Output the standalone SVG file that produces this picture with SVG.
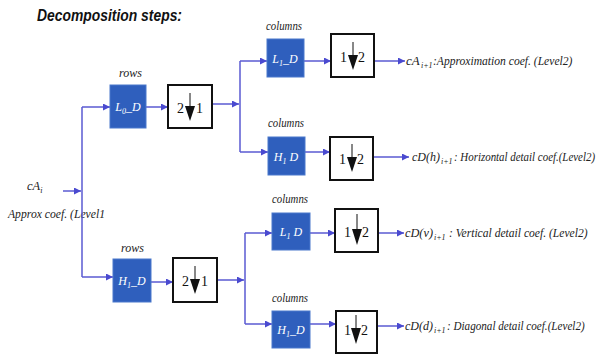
<svg xmlns="http://www.w3.org/2000/svg" width="599" height="357" viewBox="0 0 599 357">
  <style>
    .lbl { font-family: "Liberation Serif", "DejaVu Serif", serif; font-style: italic; font-size: 12.5px; fill: #222; }
    .out { font-family: "Liberation Serif", "DejaVu Serif", serif; font-style: italic; font-size: 13px; fill: #222; }
    .filt rect { fill: #2f5fbd; stroke: #4a78cc; stroke-width: 1; }
    .filt text { font-family: "Liberation Serif", "DejaVu Serif", serif; font-style: italic; font-size: 12px; fill: #ffffff; text-anchor: middle; }
    .ds rect { fill: #ffffff; stroke: #111; stroke-width: 2; }
    .ds text { font-family: "Liberation Serif", "DejaVu Serif", serif; font-size: 14px; fill: #111; }
    .ds line { stroke: #111; stroke-width: 1; }
    .ds polygon { fill: #111; }
    .wire { stroke: #5a5ad2; stroke-width: 1.5; fill: none; }
    .sub { font-size: 8px; }
    .osub { font-family: "Liberation Serif", "DejaVu Serif", serif; font-style: italic; font-size: 8px; fill: #222; }
  </style>
  <defs>
    <marker id="ah" viewBox="0 0 10 10" refX="10" refY="5" markerWidth="7" markerHeight="7" markerUnits="userSpaceOnUse" orient="auto">
      <path d="M0,0 L10,5 L0,10 z" fill="#4a4ad0"/>
    </marker>
  </defs>

  <text x="37" y="21" font-family="Liberation Sans, Arial, sans-serif" font-weight="bold" font-style="italic" font-size="17" fill="#111" textLength="145" lengthAdjust="spacingAndGlyphs">Decomposition steps:</text>

  <!-- input -->
  <g id="input">
    <text class="lbl" x="27" y="190">cA<tspan class="sub" dy="3">i</tspan></text>
    <text class="lbl" x="8" y="218" textLength="97" lengthAdjust="spacingAndGlyphs">Approx coef. (Level1</text>
  </g>

  <!-- connectors -->
  <g id="connectors">
    <line class="wire" x1="63" y1="191" x2="81" y2="191" marker-end="url(#ah)"/>
    <line class="wire" x1="82" y1="107" x2="82" y2="277"/>
    <line class="wire" x1="82" y1="107" x2="110" y2="107" marker-end="url(#ah)"/>
    <line class="wire" x1="82" y1="277" x2="113" y2="277" marker-end="url(#ah)"/>
    <line class="wire" x1="146" y1="107" x2="168" y2="107" marker-end="url(#ah)"/>
    <line class="wire" x1="151" y1="282" x2="173" y2="282" marker-end="url(#ah)"/>
    <line class="wire" x1="212" y1="104" x2="239" y2="104" marker-end="url(#ah)"/>
    <line class="wire" x1="217" y1="280" x2="244" y2="280" marker-end="url(#ah)"/>
    <line class="wire" x1="240" y1="61" x2="240" y2="152"/>
    <line class="wire" x1="245" y1="233" x2="245" y2="324"/>
    <line class="wire" x1="240" y1="61" x2="267" y2="61" marker-end="url(#ah)"/>
    <line class="wire" x1="240" y1="152" x2="268" y2="152" marker-end="url(#ah)"/>
    <line class="wire" x1="245" y1="233" x2="272" y2="233" marker-end="url(#ah)"/>
    <line class="wire" x1="245" y1="324" x2="272" y2="324" marker-end="url(#ah)"/>
    <line class="wire" x1="304" y1="61" x2="331" y2="61" marker-end="url(#ah)"/>
    <line class="wire" x1="305" y1="152" x2="330" y2="152" marker-end="url(#ah)"/>
    <line class="wire" x1="310" y1="233" x2="335" y2="233" marker-end="url(#ah)"/>
    <line class="wire" x1="310" y1="324" x2="336" y2="324" marker-end="url(#ah)"/>
    <line class="wire" x1="374" y1="61" x2="405" y2="61" marker-end="url(#ah)"/>
    <line class="wire" x1="373" y1="157" x2="409" y2="157" marker-end="url(#ah)"/>
    <line class="wire" x1="378" y1="233" x2="404" y2="233" marker-end="url(#ah)"/>
    <line class="wire" x1="377" y1="326" x2="404" y2="326" marker-end="url(#ah)"/>
  </g>

  <!-- rows stage -->
  <text class="lbl" x="119" y="77" textLength="23" lengthAdjust="spacingAndGlyphs">rows</text>
  <g id="rowL" class="filt">
    <rect x="110" y="85" width="36" height="43"/>
    <text x="128" y="111">L<tspan class="sub" dy="3">0</tspan><tspan dy="-3">_D</tspan></text>
  </g>
  <g id="rowDsTop" class="ds">
    <rect x="168" y="85" width="44" height="43"/>
    <text x="177" y="113">2</text>
    <text x="196" y="113">1</text>
    <line x1="190" y1="93" x2="190" y2="106"/>
    <polygon points="185,106 195,106 190,121"/>
  </g>

  <text class="lbl" x="121" y="252" textLength="23" lengthAdjust="spacingAndGlyphs">rows</text>
  <g id="rowH" class="filt">
    <rect x="113" y="259" width="38" height="43"/>
    <text x="132" y="285">H<tspan class="sub" dy="3">1</tspan><tspan dy="-3">_D</tspan></text>
  </g>
  <g id="rowDsBot" class="ds">
    <rect x="173" y="258" width="44" height="44"/>
    <text x="182" y="286">2</text>
    <text x="201" y="286">1</text>
    <line x1="195" y1="266" x2="195" y2="279"/>
    <polygon points="190,279 200,279 195,294"/>
  </g>

  <!-- columns stage -->
  <text class="lbl" x="266" y="30" textLength="36" lengthAdjust="spacingAndGlyphs">columns</text>
  <g id="colLL" class="filt">
    <rect x="267" y="39" width="37" height="38"/>
    <text x="285" y="63">L<tspan class="sub" dy="3">1</tspan><tspan dy="-3">_D</tspan></text>
  </g>
  <g id="dsLL" class="ds">
    <rect x="331" y="34" width="43" height="43"/>
    <text x="340" y="62">1</text>
    <text x="358" y="62">2</text>
    <line x1="353" y1="42" x2="353" y2="55"/>
    <polygon points="348,55 358,55 353,70"/>
  </g>
  <g id="outLL">
    <text class="out" x="406" y="65">cA</text>
    <text class="osub" x="421" y="68">i+1</text>
    <text class="out" transform="translate(433,65) scale(0.85,1)" x="0" y="0" textLength="164" lengthAdjust="spacingAndGlyphs">:Approximation coef. (Level2)</text>
  </g>

  <text class="lbl" x="268" y="127" textLength="36" lengthAdjust="spacingAndGlyphs">columns</text>
  <g id="colLH" class="filt">
    <rect x="268" y="137" width="37" height="38"/>
    <text x="286" y="161">H<tspan class="sub" dy="3">1</tspan><tspan dy="-3"> D</tspan></text>
  </g>
  <g id="dsLH" class="ds">
    <rect x="330" y="137" width="43" height="43"/>
    <text x="339" y="164">1</text>
    <text x="357" y="164">2</text>
    <line x1="352" y1="144" x2="352" y2="157"/>
    <polygon points="347,157 357,157 352,172"/>
  </g>
  <g id="outLH">
    <text class="out" x="412" y="161" textLength="28" lengthAdjust="spacingAndGlyphs">cD(h)</text>
    <text class="osub" x="441" y="164">i+1</text>
    <text class="out" transform="translate(454,161) scale(0.82,1)" x="0" y="0" textLength="172" lengthAdjust="spacingAndGlyphs">: Horizontal detail coef.(Level2)</text>
  </g>

  <text class="lbl" x="272" y="203" textLength="36" lengthAdjust="spacingAndGlyphs">columns</text>
  <g id="colHL" class="filt">
    <rect x="272" y="213" width="38" height="37"/>
    <text x="291" y="236">L<tspan class="sub" dy="3">1</tspan><tspan dy="-3"> D</tspan></text>
  </g>
  <g id="dsHL" class="ds">
    <rect x="335" y="209" width="43" height="43"/>
    <text x="344" y="237">1</text>
    <text x="362" y="237">2</text>
    <line x1="357" y1="214" x2="357" y2="229"/>
    <polygon points="352,229 362,229 357,245"/>
  </g>
  <g id="outHL">
    <text class="out" x="405" y="237" textLength="28" lengthAdjust="spacingAndGlyphs">cD(v)</text>
    <text class="osub" x="434" y="240">i+1</text>
    <text class="out" transform="translate(449,237) scale(0.84,1)" x="0" y="0" textLength="165" lengthAdjust="spacingAndGlyphs">: Vertical detail coef. (Level2)</text>
  </g>

  <text class="lbl" x="272" y="302" textLength="36" lengthAdjust="spacingAndGlyphs">columns</text>
  <g id="colHH" class="filt">
    <rect x="272" y="311" width="38" height="37"/>
    <text x="291" y="334">H<tspan class="sub" dy="3">1</tspan><tspan dy="-3">_D</tspan></text>
  </g>
  <g id="dsHH" class="ds">
    <rect x="336" y="311" width="41" height="42"/>
    <text x="344" y="335">1</text>
    <text x="361" y="335">2</text>
    <line x1="356" y1="315" x2="356" y2="328"/>
    <polygon points="351,328 361,328 356,344"/>
  </g>
  <g id="outHH">
    <text class="out" x="405" y="330" textLength="28" lengthAdjust="spacingAndGlyphs">cD(d)</text>
    <text class="osub" x="434" y="333">i+1</text>
    <text class="out" transform="translate(447,330) scale(0.85,1)" x="0" y="0" textLength="162" lengthAdjust="spacingAndGlyphs">: Diagonal detail coef.(Level2)</text>
  </g>
</svg>
